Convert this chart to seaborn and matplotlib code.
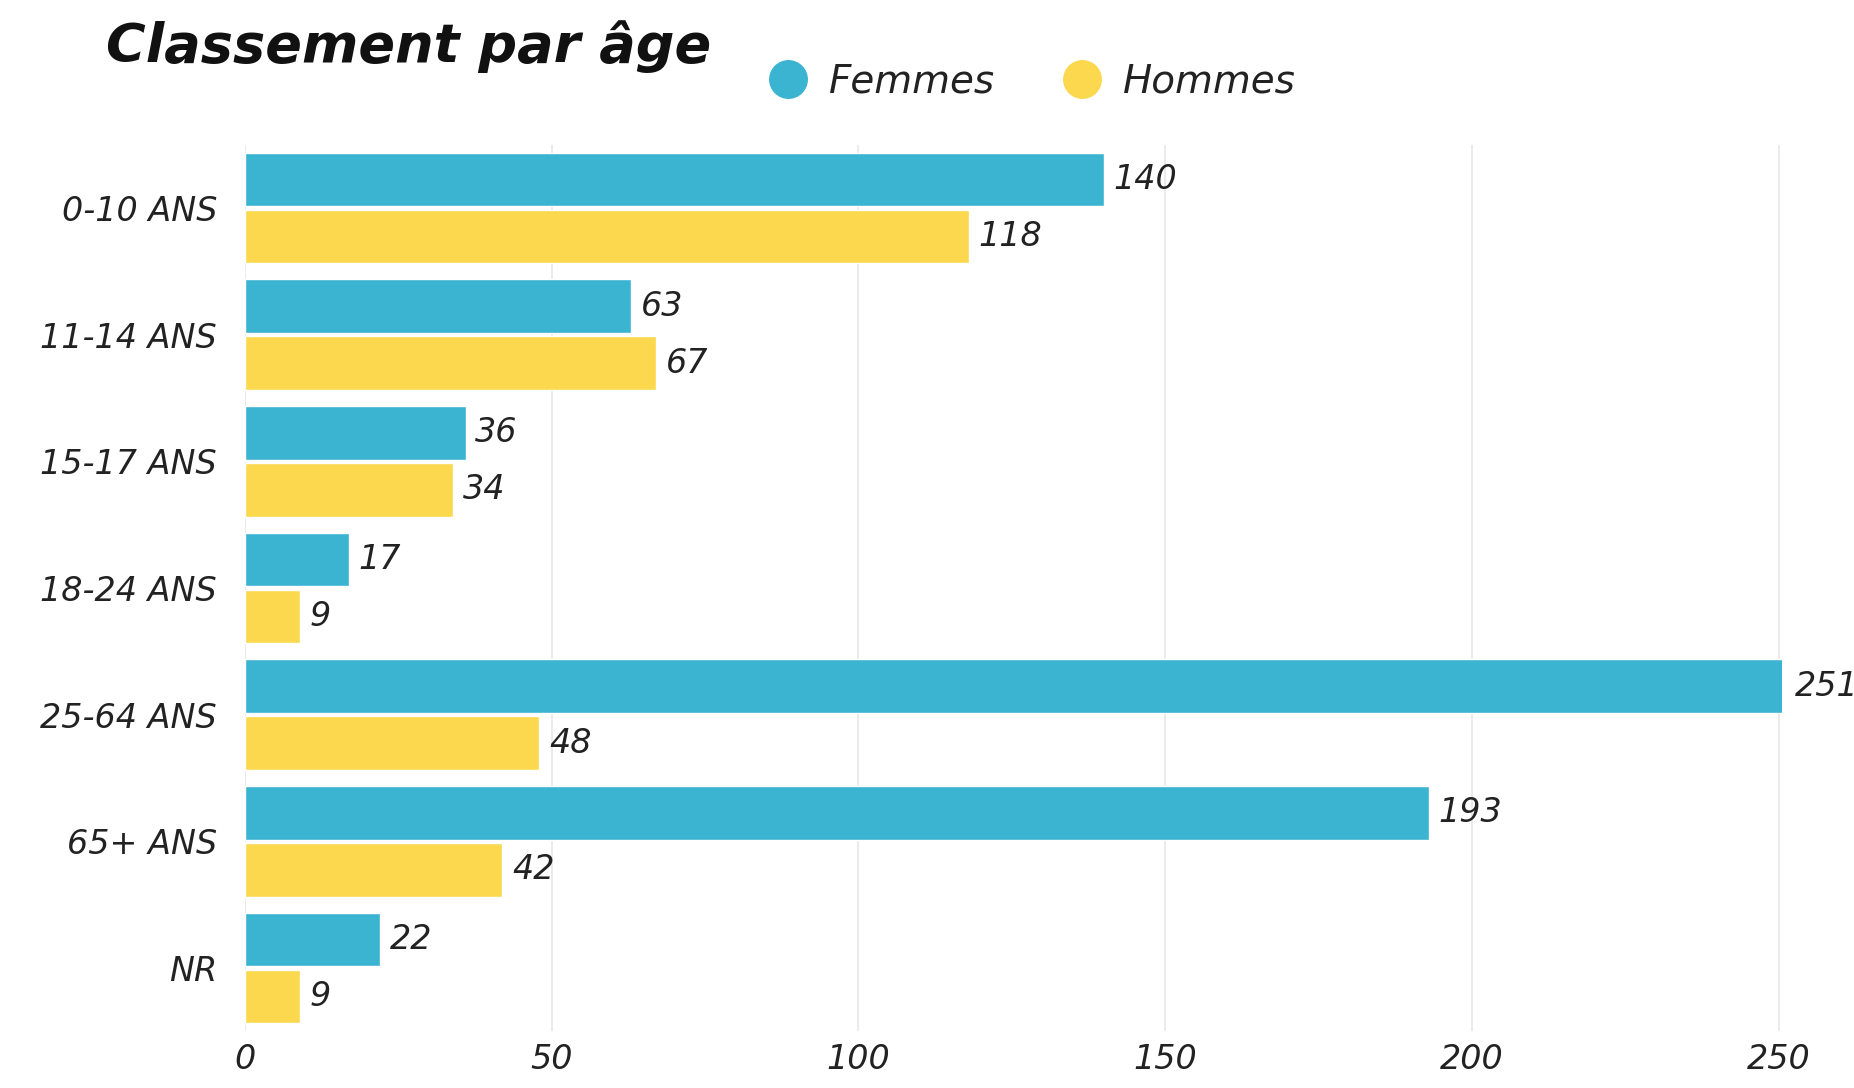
import matplotlib
matplotlib.use("Agg")
import matplotlib.pyplot as plt
from matplotlib.lines import Line2D
import seaborn as sns
import pandas as pd

categories = ["0-10 ANS", "11-14 ANS", "15-17 ANS", "18-24 ANS", "25-64 ANS", "65+ ANS", "NR"]
femmes = [140, 63, 36, 17, 251, 193, 22]
hommes = [118, 67, 34, 9, 48, 42, 9]
series_names = ["Femmes", "Hommes"]
x_ticks = [0, 50, 100, 150, 200, 250]
title = "Classement par âge"
colors = ["#3BB4D2", "#FCD84F"]

df = pd.DataFrame({
    "cat": categories * 2,
    "val": femmes + hommes,
    "sexe": [series_names[0]] * len(categories) + [series_names[1]] * len(categories),
})

sns.set_theme(style="white")
plt.rcParams["font.family"] = ["DejaVu Sans"]

fig = plt.figure(figsize=(18.54, 10.88), dpi=100)
ax = fig.add_axes([0.132, 0.052, 0.829, 0.815])

sns.barplot(data=df, y="cat", x="val", hue="sexe", order=categories,
            hue_order=series_names, palette=colors, orient="h",
            width=0.9, gap=0.06, saturation=1, legend=False, ax=ax)

for cont in ax.containers:
    ax.bar_label(cont, padding=7, fontsize=24, fontstyle="italic", color="#222222",
                 annotation_clip=False)

ax.set_xlim(0, 250.5)
ax.set_ylim(6.5, -0.5)
ax.set_xticks(x_ticks)
ax.set_xticklabels([str(t) for t in x_ticks], fontsize=24, fontstyle="italic", color="#222222")
ax.set_yticks(range(len(categories)))
ax.set_yticklabels(categories, fontsize=24, fontstyle="italic", color="#222222")
ax.tick_params(axis="y", pad=20, length=0)
ax.tick_params(axis="x", pad=8, length=0)
ax.set_xlabel("")
ax.set_ylabel("")
ax.grid(axis="x", color="#e8e8e8", linewidth=1.2)
ax.set_axisbelow(True)
for s in ax.spines.values():
    s.set_visible(False)

fig.text(0.057, 0.957, title, fontsize=39, fontweight="bold", fontstyle="italic",
         color="#111111", va="center", ha="left")

handles = [Line2D([0], [0], marker="o", linestyle="", markersize=27,
                  markerfacecolor=c, markeredgecolor=c) for c in colors]
fig.legend(handles, series_names, loc="center left", bbox_to_anchor=(0.385, 0.925),
           ncol=2, frameon=False, prop={"size": 28, "style": "italic"},
           handletextpad=0.05, columnspacing=1.25, labelcolor="#222222")

fig.savefig("out.png", dpi=100, facecolor="white")
